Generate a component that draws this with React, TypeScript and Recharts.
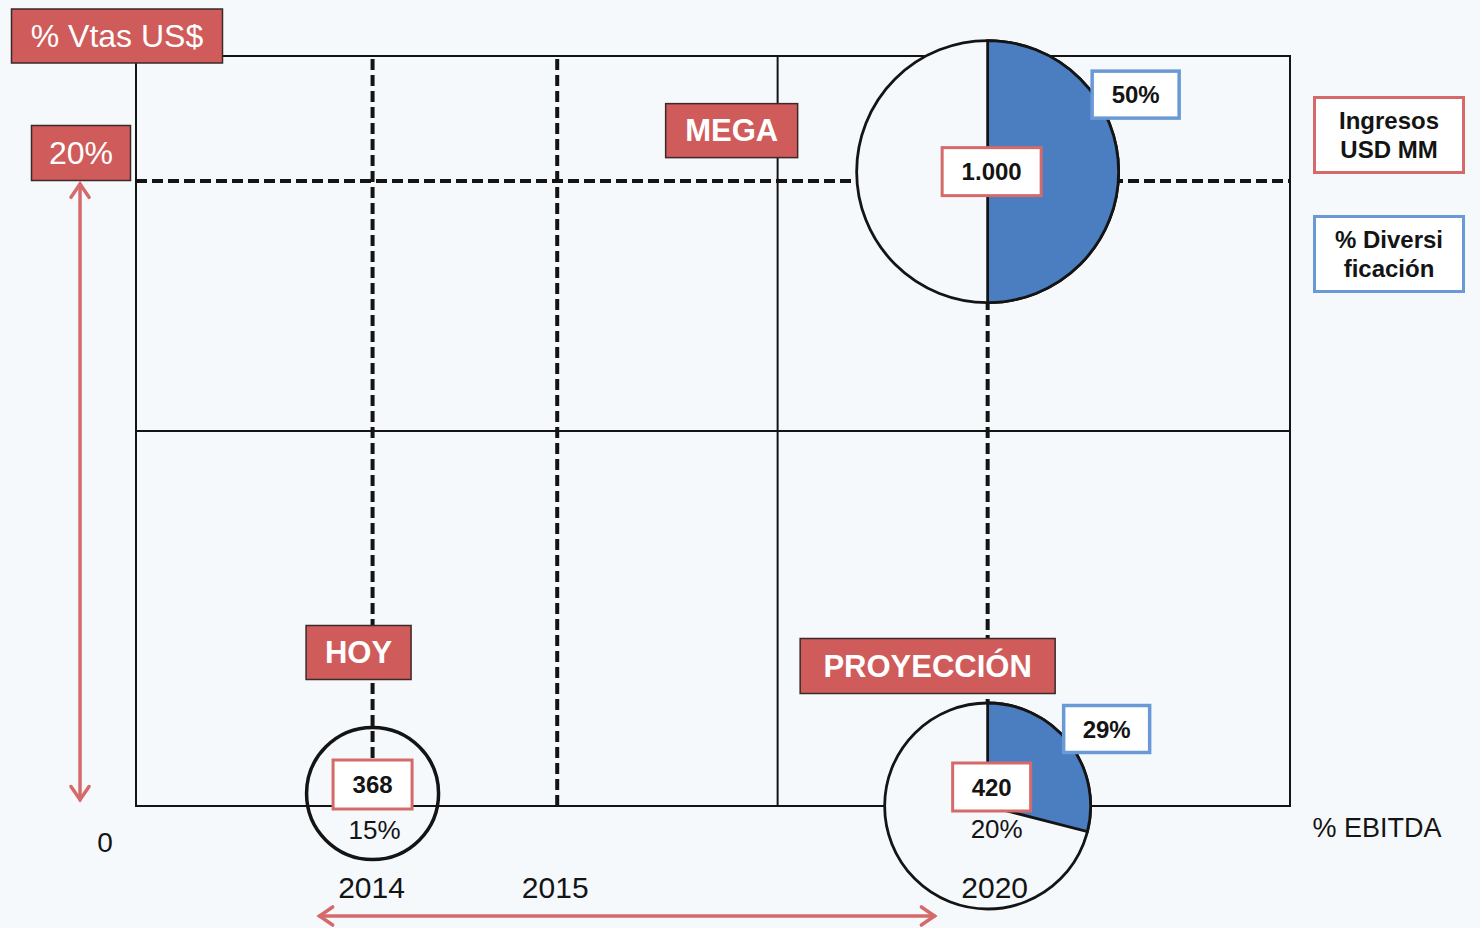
import React from 'react';
import { ComposedChart, XAxis, YAxis, Scatter, ReferenceLine, ReferenceArea, Legend, Sector } from 'recharts';

// stages of the plan
const stages = ['HOY', 'MEGA', 'PROYECCIÓN'];
const stageX = [20.5, 73.8, 73.8];
const salesShare = [0.4, 20.3, 0]; // % Vtas US$
const revenue = ['368', '1.000', '420']; // Ingresos USD MM
const diversification = [0, 50, 29]; // % Diversificación
const ebitda = [15, null, 20]; // % EBITDA

const years = ['2014', '2015', '2020'];
const yearX = [20.5, 36.5, 73.8];
const shareTicks = [0, 20];
const targetShare = 20;
const midX = 55.6;
const midY = 12;
const legendLabels = [['Ingresos', 'USD MM'], ['% Diversi', 'ficación']];

const FONT = '"Liberation Sans", Arial, Helvetica, sans-serif';
const BG = '#f6f9fc';
const RED = '#cf5b5b';
const RED_LINE = '#d46a6a';
const BLUE = '#4a7ec0';
const BLUE_LINE = '#6a9ad6';
const INK = '#141414';

const bubbleStyle: Record<string, any> = {
  HOY: { r: 66, fill: 'none', sw: 3.5, name: [-14, -141, 105, 54], rev: [0, -9, 79, 49], ebitda: [2, 36] },
  MEGA: { r: 131, fill: BG, sw: 2.8, name: [-256, -41, 132, 54], rev: [4, 0, 99, 48], div: [148, -77, 87, 47] },
  'PROYECCIÓN': { r: 103, fill: BG, sw: 2.8, name: [-60, -140, 255, 55], rev: [4, -19, 78, 48], div: [119, -77, 86, 47], ebitda: [9, 23] },
};
// small horizontal nudges of the year labels
const yearNudge: Record<string, number> = { '2014': -1, '2015': -2, '2020': 7 };

const bubbles = stages.map((name, i) => ({
  name,
  x: stageX[i],
  y: salesShare[i],
  revenue: revenue[i],
  div: diversification[i],
  ebitda: ebitda[i],
}));

const Box = ({ cx, cy, w, h, fill, stroke, sw, color, size, bold, text }: any) => (
  <g>
    <rect x={cx - w / 2} y={cy - h / 2} width={w} height={h} fill={fill} stroke={stroke} strokeWidth={sw} />
    <text x={cx} y={cy} textAnchor="middle" dominantBaseline="central" fontFamily={FONT}
      fontSize={size} fontWeight={bold ? 700 : 400} fill={color}>{text}</text>
  </g>
);

const BubbleBase = (props: any) => {
  const { cx, cy, payload } = props;
  const s = bubbleStyle[payload.name];
  return <circle cx={cx} cy={cy} r={s.r} fill={s.fill} stroke={INK} strokeWidth={s.sw} />;
};

const BubbleTop = (props: any) => {
  const { cx, cy, payload } = props;
  const s = bubbleStyle[payload.name];
  return (
    <g>
      {payload.div > 0 && (
        <Sector cx={cx} cy={cy} innerRadius={0} outerRadius={s.r} startAngle={90}
          endAngle={90 - payload.div * 3.6} fill={BLUE} stroke={INK} strokeWidth={2.8} />
      )}
      <Box cx={cx + s.name[0]} cy={cy + s.name[1]} w={s.name[2]} h={s.name[3]} fill={RED} stroke="#3a2a2a"
        sw={1.5} color="#ffffff" size={31} bold text={payload.name} />
      <Box cx={cx + s.rev[0]} cy={cy + s.rev[1]} w={s.rev[2]} h={s.rev[3]} fill="#ffffff" stroke={RED_LINE}
        sw={3} color={INK} size={24} bold text={payload.revenue} />
      {s.div && (
        <Box cx={cx + s.div[0]} cy={cy + s.div[1]} w={s.div[2]} h={s.div[3]} fill="#ffffff" stroke={BLUE_LINE}
          sw={3.5} color={INK} size={24} bold text={`${payload.div}%`} />
      )}
      {payload.ebitda != null && (
        <text x={cx + s.ebitda[0]} y={cy + s.ebitda[1]} textAnchor="middle" dominantBaseline="central"
          fontFamily={FONT} fontSize={26} fill={INK}>{`${payload.ebitda}%`}</text>
      )}
    </g>
  );
};

const YearTick = ({ x, y, payload }: any) => {
  const label = years[yearX.indexOf(payload.value)];
  return (
    <text x={x + (yearNudge[label] || 0)} y={y + 81} textAnchor="middle" dominantBaseline="central"
      fontFamily={FONT} fontSize={30} fill={INK}>
      {label}
    </text>
  );
};

const ShareTick = ({ x, y, payload }: any) => {
  if (payload.value === 0) {
    return <text x={x - 31} y={y + 36} textAnchor="middle" dominantBaseline="central" fontFamily={FONT} fontSize={28} fill={INK}>0</text>;
  }
  return (
    <Box cx={x - 55} cy={y - 28} w={99} h={55} fill={RED} stroke="#3a2a2a" sw={1.5} color="#ffffff" size={32}
      text={`${payload.value}%`} />
  );
};

const ShareTitle = ({ viewBox }: any) => (
  <Box cx={viewBox.x + viewBox.width - 19} cy={viewBox.y - 20} w={211} h={54} fill={RED} stroke="#3a2a2a" sw={1.5}
    color="#ffffff" size={32} text="% Vtas US$" />
);

const EbitdaTitle = ({ viewBox }: any) => (
  <text x={viewBox.x + viewBox.width + 87} y={viewBox.y + 22} textAnchor="middle" dominantBaseline="central"
    fontFamily={FONT} fontSize={27} fill={INK}>% EBITDA</text>
);

const RedArrow = ({ x1, y1, x2, y2 }: any) => {
  const a = Math.atan2(y2 - y1, x2 - x1);
  const head = (px: number, py: number, ang: number) => {
    const l = 16;
    const s = 0.6;
    return `M${px - l * Math.cos(ang - s)},${py - l * Math.sin(ang - s)} L${px},${py} L${px - l * Math.cos(ang + s)},${py - l * Math.sin(ang + s)}`;
  };
  return (
    <g stroke={RED_LINE} strokeWidth={3.5} fill="none" strokeLinecap="round">
      <line x1={x1} y1={y1} x2={x2} y2={y2} />
      <path d={head(x2, y2, a)} />
      <path d={head(x1, y1, a + Math.PI)} />
    </g>
  );
};

const LegendBoxes = () => (
  <div>
    {legendLabels.map((lines, i) => (
      <div key={i} style={{
        width: 146, height: 72, marginBottom: i === 0 ? 41 : 0, border: `3px solid ${i === 0 ? RED_LINE : BLUE_LINE}`,
        background: '#ffffff', display: 'flex', flexDirection: 'column', justifyContent: 'center', alignItems: 'center',
        fontFamily: FONT, fontWeight: 700, fontSize: 24, lineHeight: '29px', color: INK,
      }}>
        {lines.map((l) => <span key={l}>{l}</span>)}
      </div>
    ))}
  </div>
);

const dashed = { stroke: INK, strokeWidth: 4, strokeDasharray: '11 5' };

export default function App() {
  return (
    <div style={{ width: 1480, height: 928, background: BG, position: 'relative' }}>
      <style>{'body{margin:0}'}</style>
      <ComposedChart width={1480} height={928} data={bubbles} margin={{ top: 56, right: 190, bottom: 121, left: 135 }}>
        <XAxis type="number" dataKey="x" domain={[0, 100]} ticks={yearX} height={1} axisLine={false} tickLine={false}
          tickSize={0} tickMargin={0} tick={<YearTick />} label={<EbitdaTitle />} interval={0} />
        <YAxis type="number" dataKey="y" domain={[0, 24]} ticks={shareTicks} width={1} axisLine={false} tickLine={false}
          tickSize={0} tickMargin={0} tick={<ShareTick />} label={<ShareTitle />} interval={0} />
        <ReferenceArea x1={0} x2={100} y1={0} y2={24} fill="none" stroke={INK} strokeWidth={2} fillOpacity={0} />
        <ReferenceLine x={midX} stroke={INK} strokeWidth={2} />
        <ReferenceLine y={midY} stroke={INK} strokeWidth={2} />
        <Scatter data={bubbles} dataKey="y" shape={<BubbleBase />} isAnimationActive={false} legendType="none" />
        <ReferenceLine y={targetShare} {...dashed} />
        {yearX.map((x) => <ReferenceLine key={x} x={x} {...dashed} />)}
        <ReferenceLine segment={[{ x: -4.85, y: 19.9 }, { x: -4.85, y: 0.2 }]} ifOverflow="visible" shape={<RedArrow />} />
        <ReferenceLine segment={[{ x: 15.9, y: -3.52 }, { x: 69.2, y: -3.52 }]} ifOverflow="visible" shape={<RedArrow />} />
        <Scatter data={bubbles} dataKey="y" shape={<BubbleTop />} isAnimationActive={false} legendType="none" />
        <Legend layout="horizontal" verticalAlign="middle" align="center" content={<LegendBoxes />}
          wrapperStyle={{ left: 1313, top: 96, width: 152, height: 'auto' }} />
      </ComposedChart>
    </div>
  );
}
